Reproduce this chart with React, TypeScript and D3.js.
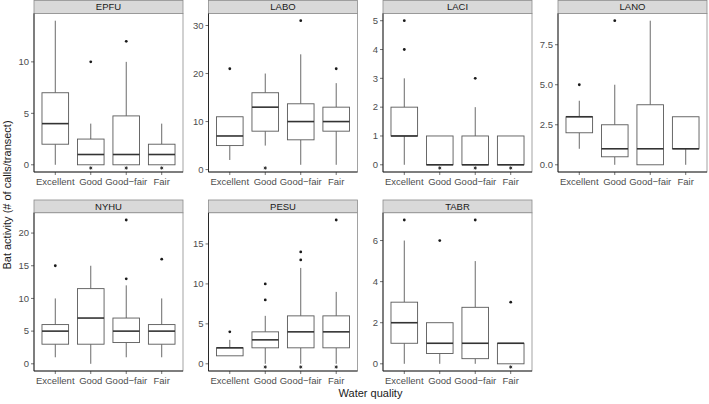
import React from "react";
import * as d3 from "d3";

const categories = ["Excellent", "Good", "Good\u2212fair", "Fair"];
const species = ["EPFU", "LABO", "LACI", "LANO", "NYHU", "PESU", "TABR"];

// per species, per category
const whiskerLow = [
  [0, 0, 0, 0],
  [2, 5, 1, 1],
  [0, 0, 0, 0],
  [1, 0, 0, 0],
  [1, 0, 1, 1],
  [1, 0, 0, 0],
  [0, 0, 0, 0],
];
const q1 = [
  [2, 0, 0, 0],
  [5, 8, 6.2, 8],
  [1, 0, 0, 0],
  [2, 0.5, 0, 1],
  [3, 3, 3.25, 3],
  [1, 2, 2, 2],
  [1, 0.5, 0.25, 0],
];
const medians = [
  [4, 1, 1, 1],
  [7, 13, 10, 10],
  [1, 0, 0, 0],
  [3, 1, 1, 1],
  [5, 7, 5, 5],
  [2, 3, 4, 4],
  [2, 1, 1, 1],
];
const q3 = [
  [7, 2.5, 4.75, 2],
  [11, 16, 13.7, 13],
  [2, 1, 1, 1],
  [3, 2.5, 3.75, 3],
  [6, 11.5, 7, 6],
  [2, 4, 6, 6],
  [3, 2, 2.75, 1],
];
const whiskerHigh = [
  [14, 4, 10, 4],
  [11, 20, 24, 18],
  [3, 1, 2, 1],
  [4, 5, 9, 3],
  [10, 15, 12, 10],
  [3, 6, 12, 9],
  [6, 2, 5, 1],
];
const outliers = [
  [[], [10], [12], []],
  [[21], [], [31], [21]],
  [[4, 5], [], [3], []],
  [[5], [9], [], []],
  [[15], [], [13, 22], [16]],
  [[4], [8, 10], [13, 14], [18]],
  [[7], [6], [7], [3]],
];
const stars = [
  [false, true, true, true],
  [false, true, false, false],
  [false, true, true, true],
  [false, false, false, false],
  [false, false, false, false],
  [false, true, true, true],
  [false, false, false, true],
];
const yTicks = [
  [0, 5, 10],
  [0, 10, 20, 30],
  [0, 1, 2, 3, 4, 5],
  [0, 2.5, 5, 7.5],
  [0, 5, 10, 15, 20],
  [0, 5, 10, 15],
  [0, 2, 4, 6],
];
const yTickFormat = ["d", "d", "d", ".1f", "d", "d", "d"];

const W = 709;
const H = 404;
const panelW = 149;
const panelXs = [34, 208.5, 383, 558];
const rows = [
  { stripTop: 0, top: 13.5, bottom: 172 },
  { stripTop: 199.5, top: 212.8, bottom: 371 },
];

function Panel({ idx }: { idx: number }) {
  const row = rows[Math.floor(idx / 4)];
  const x0 = panelXs[idx % 4];
  const all = [
    ...whiskerLow[idx],
    ...whiskerHigh[idx],
    ...outliers[idx].flat(),
  ];
  const mn = d3.min(all) as number;
  const mx = d3.max(all) as number;
  const pad = (mx - mn) * 0.05;
  const y = d3.scaleLinear().domain([mn - pad, mx + pad]).range([row.bottom, row.top]);
  const x = d3
    .scaleLinear()
    .domain([0.4, categories.length + 0.6])
    .range([x0, x0 + panelW]);
  const bw = (x(1.75) - x(1)) / 2;
  const fmt = d3.format(yTickFormat[idx]);
  const star = d3.symbol(d3.symbolAsterisk, 8)() as string;
  return (
    <g>
      <rect x={x0} y={row.stripTop + 0.5} width={panelW} height={row.top - row.stripTop - 0.5}
        fill="#d9d9d9" stroke="#8c8c8c" strokeWidth={0.8} />
      <text x={x0 + panelW / 2} y={(row.stripTop + row.top) / 2 + 3.5} textAnchor="middle"
        fontSize={9.5} fill="#1a1a1a">{species[idx]}</text>
      <rect x={x0} y={row.top} width={panelW} height={row.bottom - row.top}
        fill="white" stroke="#8c8c8c" strokeWidth={0.8} />
      {categories.map((c, i) => {
        const cx = x(i + 1);
        return (
          <g key={c}>
            <line x1={cx} x2={cx} y1={y(whiskerLow[idx][i])} y2={y(q1[idx][i])} stroke="#595959" strokeWidth={0.9} />
            <line x1={cx} x2={cx} y1={y(q3[idx][i])} y2={y(whiskerHigh[idx][i])} stroke="#595959" strokeWidth={0.9} />
            <rect x={cx - bw} y={y(q3[idx][i])} width={bw * 2}
              height={Math.max(0, y(q1[idx][i]) - y(q3[idx][i]))}
              fill="white" stroke="#595959" strokeWidth={0.9} />
            <line x1={cx - bw} x2={cx + bw} y1={y(medians[idx][i])} y2={y(medians[idx][i])} stroke="#333" strokeWidth={1.6} />
            {outliers[idx][i].map((o, k) => (
              <circle key={k} cx={cx} cy={y(o)} r={1.4} fill="#1a1a1a" />
            ))}
            {stars[idx][i] && (
              <g transform={`translate(${cx},${row.bottom - 4})`}>
                <path d={star} stroke="#333" strokeWidth={0.9} fill="none" />
                <circle r={0.9} fill="#333" />
              </g>
            )}
            <line x1={cx} x2={cx} y1={row.bottom} y2={row.bottom + 3} stroke="#4d4d4d" strokeWidth={0.8} />
            <text x={cx} y={row.bottom + 12.5} textAnchor="middle" fontSize={9.5} fill="#4d4d4d">{c}</text>
          </g>
        );
      })}
      {yTicks[idx].map((t) => (
        <g key={t}>
          <line x1={x0 - 3} x2={x0} y1={y(t)} y2={y(t)} stroke="#4d4d4d" strokeWidth={0.8} />
          <text x={x0 - 5} y={y(t) + 3.3} textAnchor="end" fontSize={9.5} fill="#4d4d4d">{fmt(t)}</text>
        </g>
      ))}
      <line x1={x0} x2={x0} y1={row.top} y2={row.bottom} stroke="#1a1a1a" strokeWidth={0.9} />
      <line x1={x0} x2={x0 + panelW} y1={row.bottom} y2={row.bottom} stroke="#1a1a1a" strokeWidth={0.9} />
    </g>
  );
}

export default function App() {
  return (
    <svg width={W} height={H} style={{ position: "absolute", left: 0, top: 0 }}
      fontFamily="'Liberation Sans', Arial, sans-serif">
      <rect width={W} height={H} fill="white" />
      {species.map((s, i) => (
        <Panel key={s} idx={i} />
      ))}
      <text x={370.5} y={397} textAnchor="middle" fontSize={11} fill="#1a1a1a">Water quality</text>
      <text transform="translate(11,195) rotate(-90)" textAnchor="middle" fontSize={11} fill="#1a1a1a">
        Bat activity (# of calls/transect)
      </text>
    </svg>
  );
}
